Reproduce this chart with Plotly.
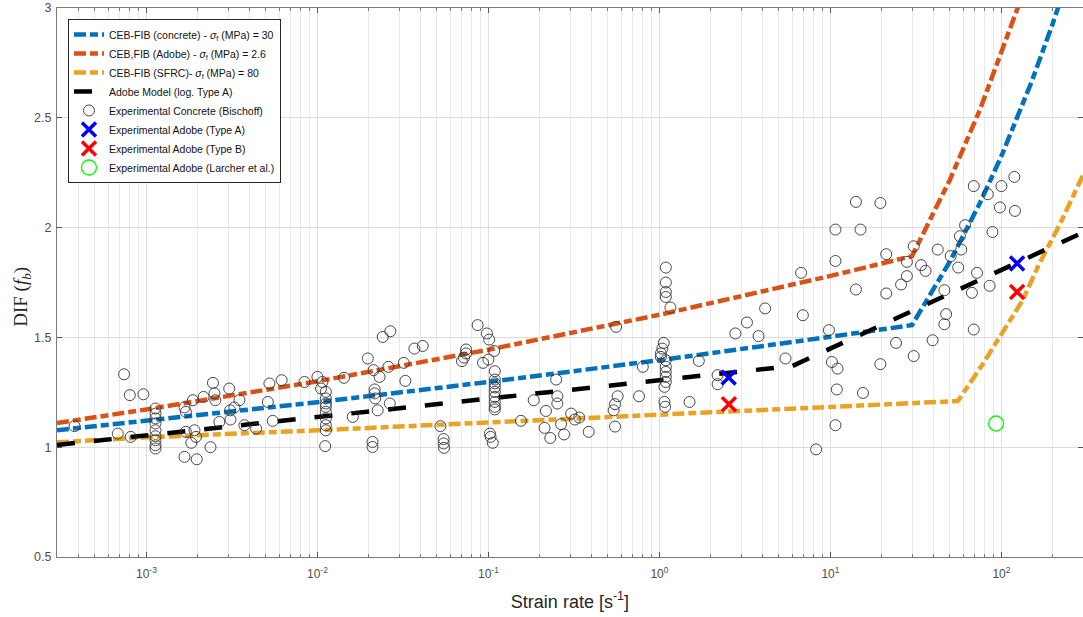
import plotly.graph_objects as go

# ---------------- data ----------------
# CEB-FIB model curves
blue_x = [3e-4, 1e-3, 1e-2, 1e-1, 1, 10, 30, 50, 75, 100, 150, 200, 250]
blue_y = [1.077, 1.12, 1.205, 1.297, 1.396, 1.503, 1.556, 1.846, 2.113, 2.326, 2.663, 2.931, 3.155]

red_x = [3e-4, 1e-3, 1e-2, 1e-1, 1, 10, 30, 50, 75, 100, 127, 150]
red_y = [1.11, 1.172, 1.30, 1.444, 1.603, 1.78, 1.87, 2.218, 2.538, 2.793, 3.0, 3.17]

orange_x = [3e-4, 1e-3, 1e-2, 1e-1, 1, 10, 55.6, 78, 100, 133, 167, 220, 300]
orange_y = [1.022, 1.045, 1.077, 1.112, 1.147, 1.183, 1.21, 1.38, 1.516, 1.669, 1.837, 2.016, 2.239]

black_x = [3e-4, 1e-2, 1, 6, 30, 300]
black_y = [1.01, 1.138, 1.305, 1.37, 1.62, 1.978]

# Experimental concrete (Bischoff)
conc_x = [
    3.8e-4, 6.8e-4, 7.4e-4, 8.0e-4, 8.1e-4, 9.6e-4,
    1.13e-3, 1.13e-3, 1.13e-3, 1.13e-3, 1.13e-3, 1.13e-3, 1.13e-3, 1.13e-3, 1.13e-3,
    1.67e-3, 1.7e-3, 1.7e-3, 1.67e-3, 1.87e-3, 1.91e-3, 1.95e-3, 1.83e-3, 1.97e-3,
    2.16e-3, 2.37e-3, 2.45e-3, 2.5e-3, 2.53e-3, 2.67e-3, 3.05e-3, 3.09e-3, 3.1e-3,
    3.27e-3, 3.5e-3, 3.74e-3, 4.38e-3, 5.13e-3, 5.24e-3, 5.48e-3, 6.18e-3, 8.4e-3,
    1.0e-2, 1.07e-2, 1.05e-2,
    1.12e-2, 1.12e-2, 1.12e-2, 1.12e-2, 1.12e-2, 1.12e-2, 1.12e-2, 1.12e-2,
    1.11e-2, 1.43e-2, 1.61e-2, 1.97e-2, 2.13e-2, 2.31e-2, 2.16e-2, 2.16e-2, 2.18e-2,
    2.25e-2, 2.1e-2, 2.1e-2, 2.41e-2, 2.67e-2, 2.6e-2, 2.65e-2, 3.2e-2, 3.27e-2,
    3.69e-2, 4.13e-2, 5.24e-2, 5.47e-2, 5.47e-2, 5.5e-2,
    7.4e-2, 7.4e-2, 7.2e-2, 7.0e-2, 8.65e-2, 9.3e-2, 9.8e-2, 1.0e-1, 1.01e-1, 1.08e-1,
    1.09e-1, 1.09e-1, 1.09e-1, 1.09e-1, 1.09e-1, 1.09e-1, 1.09e-1, 1.09e-1, 1.09e-1,
    1.02e-1, 1.03e-1, 1.06e-1,
    1.55e-1, 1.84e-1, 2.13e-1, 2.17e-1, 2.3e-1, 2.49e-1, 2.53e-1, 2.53e-1, 2.66e-1,
    2.77e-1, 3.05e-1, 3.2e-1, 3.4e-1, 3.86e-1, 0.55, 0.558, 0.57, 0.55, 0.54, 0.76, 0.80,
    1.09, 1.09, 1.09, 1.09, 1.16,
    1.06, 1.04, 1.02, 1.02, 1.09, 1.09, 1.09, 1.09, 1.09, 1.07, 1.07, 1.08,
    1.5, 1.7, 2.19, 2.19, 2.78, 3.25, 3.8, 4.15, 5.46, 6.74, 6.9, 8.25, 9.8,
    10.2, 10.7, 10.7, 11.0, 10.9, 10.7, 14.1, 15.0, 14.1, 15.5, 19.6, 19.6, 21.2, 21.2,
    24.2, 25.9, 28.0, 28.0, 30.7, 30.7, 33.9, 36.0, 39.6, 42.4, 46.4, 47.5, 46.4, 50.5,
    55.9, 57.2, 58.2, 61.3, 67.2, 68.9, 68.9, 72, 83.2, 85.3, 88.6, 98, 100, 119, 120,
]
conc_y = [
    1.096, 1.062, 1.332, 1.237, 1.047, 1.241,
    1.176, 1.153, 1.131, 1.108, 1.077, 1.050, 1.032, 1.009, 0.994,
    1.181, 1.161, 1.07, 0.956, 1.214, 1.077, 1.047, 1.02, 0.945,
    1.229, 1.0, 1.293, 1.245, 1.214, 1.115, 1.267, 1.168, 1.126,
    1.181, 1.214, 1.10, 1.085, 1.206, 1.29, 1.12, 1.305, 1.297,
    1.32, 1.297, 1.267,
    1.252, 1.222, 1.199, 1.184, 1.161, 1.131, 1.10, 1.077,
    1.005, 1.316, 1.138, 1.404, 1.351, 1.32, 1.263, 1.245, 1.222,
    1.168, 1.024, 1.001, 1.502, 1.528, 1.366, 1.199, 1.384, 1.302,
    1.449, 1.461, 1.096, 1.037, 1.017, 0.997,
    1.445, 1.427, 1.408, 1.392, 1.556, 1.384, 1.518, 1.399, 1.49, 1.438,
    1.346, 1.308, 1.291, 1.272, 1.252, 1.229, 1.206, 1.184, 1.172,
    1.062, 1.047, 1.02,
    1.12, 1.214, 1.088, 1.165, 1.042, 1.308, 1.232, 1.199, 1.105,
    1.058, 1.153, 1.126, 1.135, 1.07, 1.094, 1.548, 1.232, 1.196, 1.168, 1.232, 1.366,
    1.818, 1.75, 1.707, 1.684, 1.636,
    1.475, 1.449, 1.427, 1.411, 1.396, 1.366, 1.343, 1.32, 1.297, 1.275, 1.206, 1.184,
    1.206, 1.393, 1.328, 1.287, 1.518, 1.568, 1.506, 1.632, 1.404, 1.794, 1.601, 0.99, 1.533,
    1.388, 1.991, 1.848, 1.358, 1.263, 1.10, 2.117, 1.991, 1.718, 1.247, 2.112, 1.378, 1.879, 1.70,
    1.475, 1.741, 1.844, 1.779, 1.915, 1.415, 1.829, 1.803, 1.487, 1.90, 1.715, 1.606, 1.56, 1.87,
    1.818, 1.961, 1.90, 2.011, 1.703, 2.189, 1.536, 1.794, 2.152, 1.735, 1.98, 2.092, 2.189, 2.231, 2.076,
]

# Experimental adobe
typeA_x = [2.54, 123.5]
typeA_y = [1.317, 1.837]
typeB_x = [2.55, 123.5]
typeB_y = [1.196, 1.707]
larcher_x = [93.1]
larcher_y = [1.108]

# axis ticks
x_major = [1e-3, 1e-2, 1e-1, 1, 10, 100]
x_major_text = ["10<sup>-3</sup>", "10<sup>-2</sup>", "10<sup>-1</sup>", "10<sup>0</sup>",
                "10<sup>1</sup>", "10<sup>2</sup>"]
x_minor = [m * 10.0 ** e for e in range(-4, 3) for m in range(2, 10)]
y_ticks = [0.5, 1, 1.5, 2, 2.5, 3]
y_ticktext = ["0.5", "1", "1.5", "2", "2.5", "3"]

# ---------------- figure ----------------
BLUE = "#0072BD"
RED = "#D95319"
ORANGE = "#E8A326"
LW = 4.5
DASH_C = "12px,4px,8px,4px"

fig = go.Figure()
fig.add_trace(go.Scatter(x=blue_x, y=blue_y, mode="lines",
                         line=dict(color=BLUE, width=LW, dash=DASH_C),
                         name="CEB-FIB (concrete) - <i>σ</i><sub>f</sub> (MPa) = 30"))
fig.add_trace(go.Scatter(x=red_x, y=red_y, mode="lines",
                         line=dict(color=RED, width=LW, dash=DASH_C),
                         name="CEB,FIB (Adobe) - <i>σ</i><sub>f</sub> (MPa) = 2.6"))
fig.add_trace(go.Scatter(x=orange_x, y=orange_y, mode="lines",
                         line=dict(color=ORANGE, width=LW, dash=DASH_C),
                         name="CEB-FIB (SFRC)- <i>σ</i><sub>f</sub> (MPa) = 80"))
fig.add_trace(go.Scatter(x=black_x, y=black_y, mode="lines",
                         line=dict(color="black", width=LW, dash="18px,19px"),
                         name="Adobe Model (log. Type A)"))
fig.add_trace(go.Scatter(x=conc_x, y=conc_y, mode="markers",
                         marker=dict(symbol="circle-open", size=11, color="#333333",
                                     line=dict(width=0.9, color="#333333")),
                         name="Experimental Concrete (Bischoff)"))
fig.add_trace(go.Scatter(x=typeA_x, y=typeA_y, mode="markers",
                         marker=dict(symbol="x-thin-open", size=14, color="#0000FF",
                                     line=dict(width=3.5, color="#0000FF")),
                         name="Experimental Adobe (Type A)"))
fig.add_trace(go.Scatter(x=typeB_x, y=typeB_y, mode="markers",
                         marker=dict(symbol="x-thin-open", size=14, color="#FF0000",
                                     line=dict(width=3.5, color="#FF0000")),
                         name="Experimental Adobe (Type B)"))
fig.add_trace(go.Scatter(x=larcher_x, y=larcher_y, mode="markers",
                         marker=dict(symbol="circle-open", size=15, color="#00FF00",
                                     line=dict(width=1.3, color="#00FF00")),
                         name="Experimental Adobe (Larcher et al.)"))

AXIS_FONT = "Liberation Sans, Arial, sans-serif"
fig.update_layout(
    width=1083, height=617,
    margin=dict(l=57, r=0, t=8, b=60, autoexpand=False),
    paper_bgcolor="white", plot_bgcolor="white",
    font=dict(family=AXIS_FONT, color="#262626"),
    showlegend=True,
    legend=dict(x=0.0107, y=0.98, xanchor="left", yanchor="top",
                bgcolor="white", bordercolor="#262626", borderwidth=1,
                font=dict(family=AXIS_FONT, size=10.5, color="#111111"),
                tracegroupgap=0, itemwidth=30),
    xaxis=dict(
        type="log", range=[-3.5229, 2.4771],
        tickmode="array", tickvals=x_major, ticktext=x_major_text,
        tickfont=dict(size=12, color="#4d4d4d"), ticklabelstandoff=6,
        ticks="inside", ticklen=5, tickcolor="#555555",
        showgrid=True, gridcolor="#dedede", gridwidth=1,
        minor=dict(tickmode="array", tickvals=x_minor, ticks="inside", ticklen=3,
                   tickcolor="#777777", showgrid=True, gridcolor="#e9e9e9", gridwidth=1),
        showline=True, linecolor="#7a7a7a", linewidth=1, mirror="ticks",
        zeroline=False,
        title=dict(text="Strain rate [s<sup>-1</sup>]",
                   font=dict(size=18, color="#262626"), standoff=14),
    ),
    yaxis=dict(
        range=[0.5, 3], tickmode="array", tickvals=y_ticks, ticktext=y_ticktext,
        tickfont=dict(size=12.5, color="#4d4d4d"), ticklabelstandoff=2,
        ticks="inside", ticklen=5, tickcolor="#555555",
        showgrid=True, gridcolor="#dcdcdc", gridwidth=1,
        showline=True, linecolor="#7a7a7a", linewidth=1, mirror="ticks",
        zeroline=False,
    ),
    annotations=[dict(
        text="DIF (<i>f</i><sub><i>b</i></sub>)", textangle=-90,
        xref="paper", yref="paper", x=-0.0341, y=0.474,
        xanchor="center", yanchor="middle", showarrow=False,
        font=dict(family="Liberation Serif, Times New Roman, serif", size=19,
                  color="#262626"),
    )],
)

fig.write_html("out.html", config={"displayModeBar": False},
               post_script="document.body.style.margin='0px';")
